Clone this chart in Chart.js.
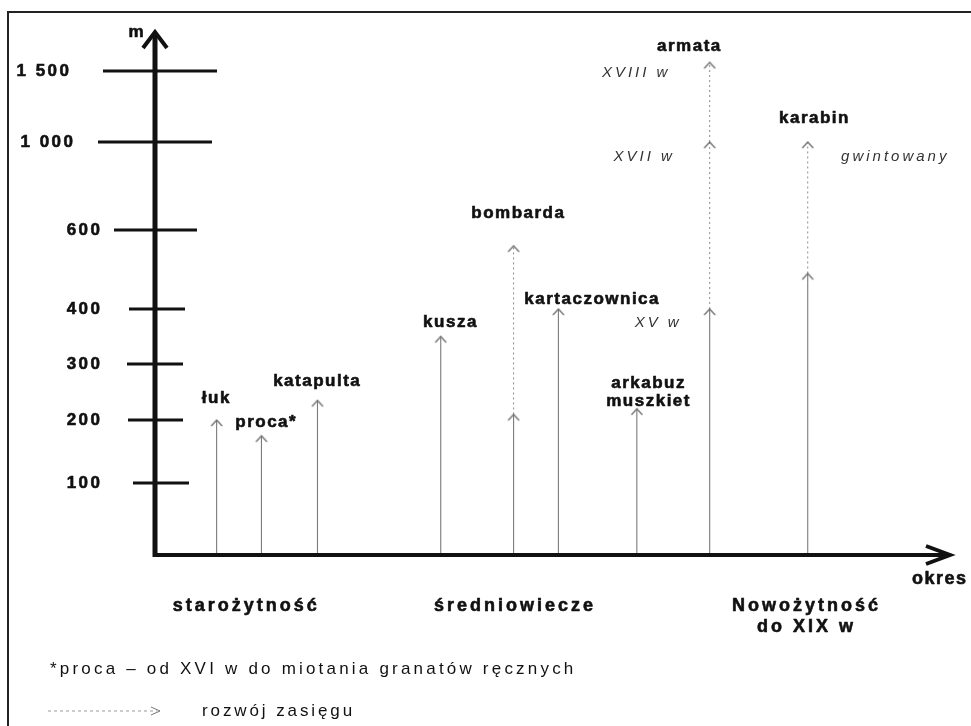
<!DOCTYPE html>
<html lang="pl">
<head>
<meta charset="utf-8">
<title>Zasięg broni</title>
<script src="https://cdn.jsdelivr.net/npm/chart.js@4.4.1/dist/chart.umd.min.js"></script>
<style>
    html, body { margin: 0; padding: 0; background: #fff; }
    canvas { display: block; }
</style>
</head>
<body>
<canvas id="zasiegChart" width="971" height="726"></canvas>
<script>
// Bronie i ich zasięg (m)
const bronie = ['łuk', 'proca*', 'katapulta', 'kusza', 'bombarda', 'kartaczownica', ['arkabuz', 'muszkiet'], 'armata', 'karabin'];
const okres = [0.90, 1.06, 1.26, 1.70, 1.96, 2.12, 2.40, 2.66, 3.01];
const zasieg = [200, 175, 235, 350, 210, 400, 220, 400, 490];
const rozwoj1 = [null, null, null, null, 560, null, null, 1000, 1000];
const rozwoj2 = [null, null, null, null, null, null, null, 1560, null];

// Uwagi przy strzałkach
const uwagi = ['XV w', 'XVII w', 'XVIII w', 'gwintowany'];
const uwagiBron = [7, 7, 7, 8];
const uwagiZasieg = [400, 1000, 1500, 1000];

// Epoki na osi "okres"
const epoki = ['starożytność', 'średniowiecze', ['Nowożytność', 'do XIX w']];
const epokiPos = [1, 1.96, 3];

// Podziałka osi "m"
const podzialka = [100, 200, 300, 400, 600, 1000, 1500];
const podzialkaEtykiety = ['100', '200', '300', '400', '600', '1 000', '1 500'];

const FONT = '"Liberation Sans", Arial, sans-serif';

// skala nieliniowa - odcinkami liniowa
class PiecewiseScale extends Chart.LinearScale {
    determineDataLimits() {
        const v = this.options.stopValues;
        this.min = v[0];
        this.max = v[v.length - 1];
    }
    buildTicks() {
        return this.options.stopValues.map(v => ({ value: v }));
    }
    getPixelForValue(value) {
        if (value === null || value === undefined) return NaN;
        const v = this.options.stopValues, f = this.options.stopFractions;
        let i = 1;
        while (i < v.length - 1 && value > v[i]) i++;
        const d = f[i - 1] + (value - v[i - 1]) / (v[i] - v[i - 1]) * (f[i] - f[i - 1]);
        return this.getPixelForDecimal(d);
    }
    getValueForPixel(pixel) {
        const d = this.getDecimalForPixel(pixel);
        const v = this.options.stopValues, f = this.options.stopFractions;
        let i = 1;
        while (i < f.length - 1 && d > f[i]) i++;
        return v[i - 1] + (d - f[i - 1]) / (f[i] - f[i - 1]) * (v[i] - v[i - 1]);
    }
}
PiecewiseScale.id = 'piecewise';
PiecewiseScale.defaults = {};
Chart.register(PiecewiseScale);

// grot strzałki jako obrazek punktu
function grot(color) {
    const c = document.createElement('canvas');
    c.width = 14; c.height = 18;
    const g = c.getContext('2d');
    g.strokeStyle = color;
    g.lineWidth = 1.3;
    g.beginPath();
    g.moveTo(1.5, 15); g.lineTo(7, 9); g.lineTo(12.5, 15);
    g.stroke();
    return c;
}
const strzalka = grot('#6e6e6e');

function odcinek(x, od, doo, kropki) {
    return {
        data: [{ x: x, y: od }, { x: x, y: doo }],
        borderColor: kropki ? '#8c8c8c' : '#7a7a7a',
        borderWidth: kropki ? 1 : 1.1,
        borderDash: kropki ? [2, 3] : [],
        pointStyle: strzalka,
        pointRadius: c => c.dataIndex === 1 ? 6 : 0,
        pointHoverRadius: 0,
        tension: 0,
        fill: false,
        clip: false
    };
}

const datasets = [];
bronie.forEach((b, i) => {
    datasets.push(odcinek(okres[i], 0, zasieg[i], false));
    let od = zasieg[i];
    [rozwoj1[i], rozwoj2[i]].forEach(v => {
        if (v !== null) {
            datasets.push(odcinek(okres[i], od, v, true));
            od = v;
        }
    });
});

function napis(ctx, t, x, y, font, color, align, odstep, gruby) {
    ctx.font = font;
    ctx.fillStyle = color;
    ctx.textAlign = align;
    ctx.textBaseline = 'middle';
    ctx.letterSpacing = odstep + 'px';
    const dx = align === 'center' ? odstep / 2 : (align === 'right' ? odstep : 0);
    ctx.fillText(t, x + dx, y);
    if (gruby) {
        // skan ma grubsze litery
        ctx.strokeStyle = color;
        ctx.lineWidth = 0.6;
        ctx.lineJoin = 'round';
        ctx.strokeText(t, x + dx, y);
    }
    ctx.letterSpacing = '0px';
}

function linia(ctx, pts, w, color, dash) {
    ctx.strokeStyle = color;
    ctx.lineWidth = w;
    ctx.setLineDash(dash || []);
    ctx.lineCap = 'butt';
    ctx.lineJoin = 'miter';
    ctx.beginPath();
    pts.forEach((p, i) => i ? ctx.lineTo(p[0], p[1]) : ctx.moveTo(p[0], p[1]));
    ctx.stroke();
    ctx.setLineDash([]);
}

// przesunięcia etykiet względem grotu (styl)
const etykietyPrzes = [[-1, -22], [4, -13], [-1, -19], [9, -14], [4, -32], [33, -10], [11, -25], [-21, -16], [6, -24]];
const uwagiPrzes = [[-53, 14], [-67, 15], [-75, 2], [86, 15]];
const kreskaL = [-22, -27, -28, -26, -41, -57, -52];
const kreskaP = [34, 28, 28, 30, 42, 57, 62];
const etykietaP = [-55, -55, -55, -55, -55, -82, -86];

const szkic = {
    id: 'szkic',
    beforeDraw(chart) {
        const { ctx, width, height } = chart;
        ctx.save();
        ctx.fillStyle = '#fff';
        ctx.fillRect(0, 0, width, height);
        linia(ctx, [[8, height + 2], [8, 12], [width + 2, 12]], 2, '#222');
        ctx.restore();
    },
    afterDatasetsDraw(chart) {
        const { ctx, chartArea } = chart;
        const x = chart.scales.x, y = chart.scales.y;
        const ax = chartArea.left, ay = chartArea.bottom;
        ctx.save();

        // oś pionowa
        linia(ctx, [[ax, ay + 2], [ax, chartArea.top - 1]], 5, '#111');
        linia(ctx, [[ax - 12, chartArea.top + 13], [ax, chartArea.top - 3], [ax + 12, chartArea.top + 13]], 4, '#111');
        napis(ctx, 'm', ax - 19, chartArea.top - 3, 'bold 17px ' + FONT, '#111', 'center', 0, true);

        // podziałka
        podzialka.forEach((v, i) => {
            const py = y.getPixelForValue(v);
            linia(ctx, [[ax + kreskaL[i], py], [ax + kreskaP[i], py]], 3, '#111');
            napis(ctx, podzialkaEtykiety[i], ax + etykietaP[i], py, 'bold 17px ' + FONT, '#111', 'right', 2.5, true);
        });

        // oś pozioma
        linia(ctx, [[ax - 2, ay], [chartArea.right + 2, ay]], 4, '#111');
        linia(ctx, [[chartArea.right - 19, ay - 9], [chartArea.right + 5, ay], [chartArea.right - 19, ay + 9]], 4, '#111');
        napis(ctx, 'okres', chartArea.right - 33, ay + 24, 'bold 18px ' + FONT, '#111', 'left', 1.5, true);

        // epoki
        epoki.forEach((e, i) => {
            const px = x.getPixelForValue(epokiPos[i]);
            [].concat(e).forEach((t, j) => {
                napis(ctx, t, px, ay + 51 + j * 21, 'bold 18px ' + FONT, '#111', 'center', 3, true);
            });
        });

        // nazwy broni
        bronie.forEach((b, i) => {
            const top = [zasieg[i], rozwoj1[i], rozwoj2[i]].filter(v => v !== null).pop();
            const px = x.getPixelForValue(okres[i]) + etykietyPrzes[i][0];
            const py = y.getPixelForValue(top) + etykietyPrzes[i][1];
            [].concat(b).forEach((t, j) => {
                napis(ctx, t, px, py + j * 18, 'bold 17px ' + FONT, '#111', 'center', 1.5, true);
            });
        });

        // uwagi kursywą
        uwagi.forEach((u, i) => {
            const px = x.getPixelForValue(okres[uwagiBron[i]]) + uwagiPrzes[i][0];
            const py = y.getPixelForValue(uwagiZasieg[i]) + uwagiPrzes[i][1];
            napis(ctx, u, px, py, 'italic 15px ' + FONT, '#333', 'center', 3);
        });

        // przypis i legenda
        napis(ctx, '*proca – od XVI w do miotania granatów ręcznych', 50, 669, '17px ' + FONT, '#111', 'left', 3.2);
        linia(ctx, [[48, 711], [157, 711]], 1, '#9a9a9a', [3, 3]);
        linia(ctx, [[151, 707], [160, 711], [151, 715]], 1, '#777');
        napis(ctx, 'rozwój zasięgu', 202, 711, '17px ' + FONT, '#111', 'left', 2.9);

        ctx.restore();
    }
};

new Chart('zasiegChart', {
    type: 'line',
    data: { datasets: datasets },
    plugins: [szkic],
    options: {
        responsive: false,
        animation: false,
        devicePixelRatio: 1,
        events: [],
        layout: { padding: { left: 155, right: 26, top: 35, bottom: 171 } },
        plugins: {
            legend: { display: false },
            tooltip: { enabled: false }
        },
        scales: {
            x: { type: 'linear', min: 0.68, max: 3.5, display: false },
            y: {
                type: 'piecewise',
                display: false,
                stopValues: [0, 100, 200, 300, 400, 600, 1000, 1500, 1750],
                stopFractions: [0, 0.1385, 0.2596, 0.3673, 0.4731, 0.625, 0.7942, 0.9308, 1]
            }
        }
    }
});
</script>
</body>
</html>
